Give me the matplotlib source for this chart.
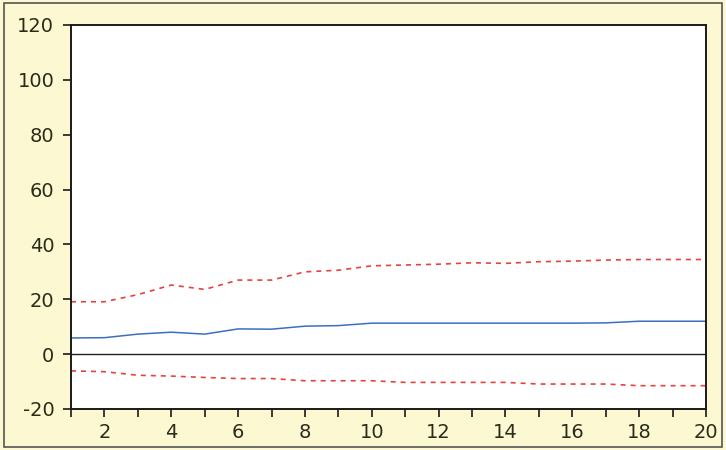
import matplotlib.pyplot as plt
from matplotlib.patches import Rectangle

# donnees (reponse impulsionnelle + bandes)
periodes = list(range(1, 21))
reponse = [5.9, 6.0, 7.3, 8.0, 7.3, 9.2, 9.1, 10.2, 10.4, 11.3,
           11.3, 11.3, 11.3, 11.3, 11.3, 11.3, 11.4, 12.0, 12.0, 12.0]
borne_haute = [19.1, 19.1, 21.7, 25.2, 23.6, 27.0, 27.0, 30.0, 30.6, 32.2,
               32.5, 32.8, 33.3, 33.1, 33.7, 33.9, 34.3, 34.5, 34.5, 34.5]
borne_basse = [-6.1, -6.4, -7.7, -8.0, -8.5, -8.9, -8.9, -9.7, -9.7, -9.7,
               -10.3, -10.3, -10.3, -10.3, -10.9, -10.9, -10.9, -11.5, -11.5, -11.5]

fond = '#fcf9d2'
texte = '#2b2b1a'

plt.rcParams['axes.unicode_minus'] = False  # tiret simple comme l'original

fig = plt.figure(figsize=(7.26, 4.5), dpi=100, facecolor=fond)
ax = fig.add_axes([71/726, 1 - 409/450, 635/726, 384/450])
ax.set_facecolor('white')

# cadre exterieur
fig.patches.append(Rectangle((4/726, 3/450), 718/726, 444/450, transform=fig.transFigure,
                             fill=False, edgecolor='#555555', linewidth=1.2))

ax.axhline(0, color='#222222', linewidth=1.0)
ax.plot(periodes, reponse, color='#3d6fc0', linewidth=1.1)
ax.plot(periodes, borne_haute, color='#e5443a', linewidth=1.2, dashes=(3, 3))
ax.plot(periodes, borne_basse, color='#e5443a', linewidth=1.2, dashes=(3, 3))

ax.set_xlim(1, 20)
ax.set_ylim(-20, 120)
ax.set_xticks(range(1, 21))
ax.set_xticklabels([str(p) if p % 2 == 0 else '' for p in range(1, 21)])
ax.set_yticks(range(-20, 121, 20))

for s in ax.spines.values():
    s.set_color('#1a1a1a')
    s.set_linewidth(1.4)
ax.tick_params(direction='out', length=6, width=1.2, color='#1a1a1a',
               labelsize=14, labelcolor=texte)
ax.tick_params(axis='y', pad=6)
ax.tick_params(axis='x', pad=4)
for lab in ax.get_xticklabels() + ax.get_yticklabels():
    lab.set_fontfamily('DejaVu Sans')

fig.savefig('out.png', dpi=100, facecolor=fond)
